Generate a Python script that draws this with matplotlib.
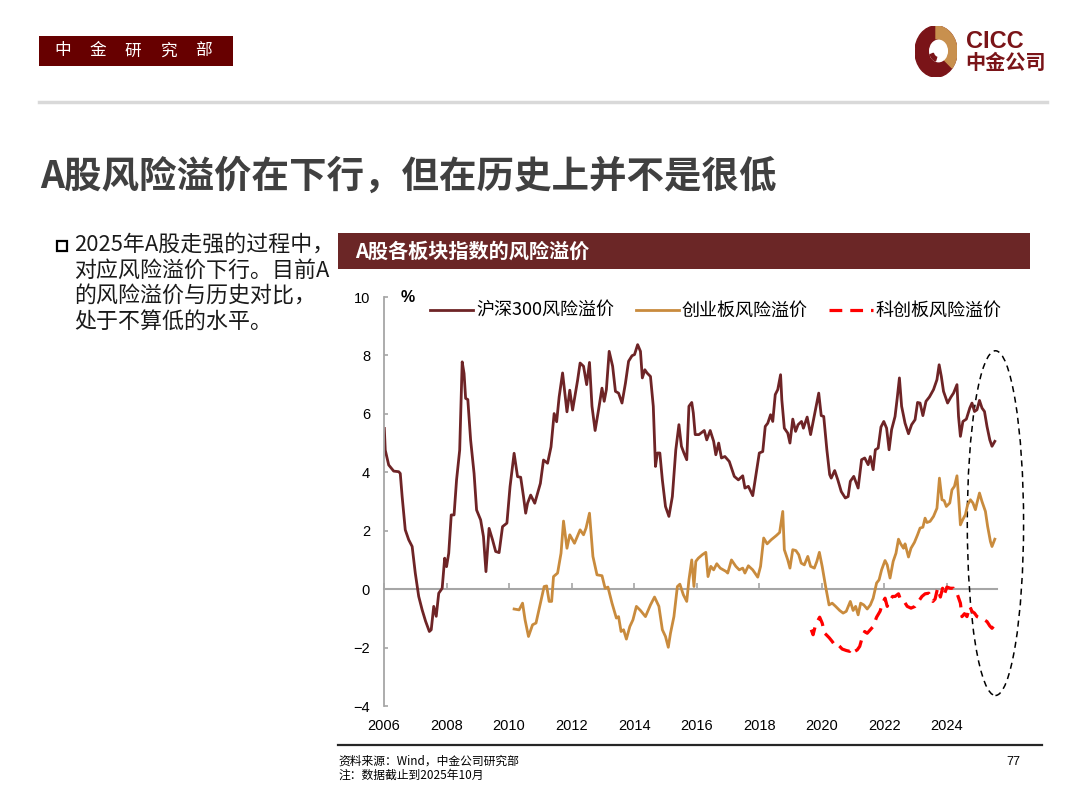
import matplotlib
matplotlib.use("Agg")
import matplotlib.pyplot as plt
from matplotlib.patches import Rectangle, Ellipse, Circle, Wedge
from matplotlib.lines import Line2D

plt.rcParams['font.family'] = ['Noto Sans CJK SC', 'DejaVu Sans']

# --- data (year, %) ---
hs300_x = [2006.01, 2006.04, 2006.15, 2006.31, 2006.47, 2006.52, 2006.58, 2006.68, 2006.79, 2006.90,
           2007.00, 2007.11, 2007.22, 2007.33, 2007.45, 2007.51, 2007.59, 2007.67, 2007.75, 2007.86,
           2007.94, 2008.00, 2008.07, 2008.15, 2008.24, 2008.32, 2008.42, 2008.50, 2008.56, 2008.61,
           2008.68, 2008.77, 2008.88, 2008.96, 2009.09, 2009.18, 2009.26, 2009.36, 2009.47, 2009.57,
           2009.68, 2009.79, 2009.93, 2010.03, 2010.16, 2010.27, 2010.37, 2010.46, 2010.53, 2010.59,
           2010.69, 2010.82, 2010.91, 2011.00, 2011.10, 2011.23, 2011.34, 2011.44, 2011.52, 2011.60,
           2011.71, 2011.85, 2011.94, 2012.03, 2012.19,
           2012.27, 2012.38, 2012.48, 2012.57, 2012.65, 2012.75, 2012.86, 2012.97, 2013.04, 2013.11,
           2013.20, 2013.31, 2013.40, 2013.50, 2013.61, 2013.72, 2013.82, 2013.93, 2014.01, 2014.11,
           2014.20, 2014.26, 2014.34, 2014.41, 2014.52, 2014.61, 2014.68, 2014.74, 2014.82, 2014.90,
           2015.00, 2015.11, 2015.22, 2015.33, 2015.43, 2015.51, 2015.59, 2015.68, 2015.75, 2015.84,
           2015.89, 2015.95, 2016.07, 2016.24, 2016.32, 2016.43, 2016.54, 2016.61, 2016.70, 2016.79,
           2016.90, 2017.04, 2017.20, 2017.33, 2017.47, 2017.54, 2017.65, 2017.79, 2017.90, 2018.00,
           2018.11, 2018.19, 2018.27, 2018.36, 2018.43, 2018.51, 2018.59, 2018.68,
           2018.72, 2018.80, 2018.91, 2018.98, 2019.07, 2019.16, 2019.24, 2019.35, 2019.41, 2019.53,
           2019.64, 2019.76, 2019.90, 2019.98, 2020.06, 2020.16, 2020.25, 2020.30, 2020.41, 2020.51,
           2020.62, 2020.75, 2020.84, 2020.91, 2021.02, 2021.10, 2021.16, 2021.27, 2021.37, 2021.48,
           2021.55, 2021.64, 2021.71, 2021.80, 2021.89, 2021.98, 2022.07, 2022.15, 2022.23, 2022.34,
           2022.41, 2022.48, 2022.55, 2022.66, 2022.77, 2022.87, 2022.98, 2023.06, 2023.14, 2023.23,
           2023.33, 2023.44, 2023.57, 2023.68, 2023.75, 2023.82, 2023.89, 2024.02, 2024.13, 2024.21,
           2024.32, 2024.37, 2024.43, 2024.51, 2024.62, 2024.73, 2024.80, 2024.88, 2024.96, 2025.04,
           2025.12, 2025.20, 2025.28, 2025.37, 2025.44, 2025.53]
hs300_y = [5.50, 4.76, 4.25, 4.04, 4.02, 3.96, 3.17, 2.03, 1.69, 1.46,
           0.55, -0.25, -0.71, -1.10, -1.45, -1.39, -0.59, -0.93, -0.14, 0.03,
           1.06, 0.77, 1.23, 2.54, 2.54, 3.74, 4.76, 7.78, 7.38, 6.53,
           6.49, 5.10, 3.96, 2.71, 2.37, 1.80, 0.60, 2.08, 1.69, 1.29,
           1.25, 2.14, 2.26, 3.51, 4.65, 3.85, 3.83, 3.17, 2.60, 2.94,
           3.22, 2.94, 3.28, 3.62, 4.42, 4.31, 4.87, 6.01, 5.73, 6.58,
           7.40, 6.07, 6.81, 6.13, 7.15,
           7.74, 7.63, 7.00, 7.76, 6.26, 5.43, 6.14, 6.88, 6.43, 6.83,
           8.14, 7.63, 6.77, 6.71, 6.37, 7.05, 7.80, 7.99, 8.03, 8.37,
           8.14, 7.23, 7.51, 7.40, 7.28, 6.26, 4.20, 4.66, 4.66, 3.74,
           2.83, 2.49, 3.17, 4.77, 5.63, 4.89, 4.66, 4.43, 6.26, 6.39,
           6.03, 5.29, 5.29, 5.43, 5.11, 5.43, 5.06, 4.60, 5.00, 4.49,
           4.54, 4.37, 3.86, 3.74, 3.88, 3.46, 3.52, 3.20, 3.97, 4.66,
           4.71, 5.57, 5.68, 5.97, 5.74, 6.66, 6.83, 7.34,
           6.48, 5.51, 5.34, 5.00, 5.82, 5.40, 5.63, 5.74, 5.51, 5.89,
           5.29, 5.94, 6.71, 5.94, 5.91, 4.77, 3.92, 3.80, 4.06, 3.74,
           3.34, 3.12, 3.17, 3.69, 3.86, 3.63, 3.46, 4.43, 4.49, 4.26,
           4.54, 4.09, 4.77, 4.83, 5.55, 5.74, 5.51, 4.77, 5.46, 5.91,
           6.54, 7.23, 6.26, 5.68, 5.32, 5.63, 5.80, 6.39, 6.37, 5.94,
           6.43, 6.58, 6.83, 7.17, 7.68, 7.28, 6.77, 6.37, 6.58, 6.71,
           7.00, 5.91, 5.23, 5.74, 5.82, 6.20, 6.37, 6.08, 6.14, 6.46,
           6.20, 6.08, 5.57, 5.11, 4.89, 5.06]

cyb_x = [2010.16, 2010.32, 2010.43, 2010.51, 2010.62, 2010.75, 2010.86, 2011.00, 2011.12, 2011.20,
         2011.28, 2011.36, 2011.42, 2011.55, 2011.66, 2011.74, 2011.85, 2011.94, 2012.09,
         2012.27, 2012.38, 2012.46, 2012.57, 2012.68, 2012.81, 2012.97, 2013.07, 2013.16, 2013.29,
         2013.43, 2013.50, 2013.58, 2013.66, 2013.75, 2013.86, 2013.96, 2014.07, 2014.20, 2014.36,
         2014.52, 2014.65, 2014.79, 2014.90, 2015.00, 2015.09, 2015.16, 2015.27, 2015.38, 2015.46,
         2015.57, 2015.68, 2015.75, 2015.84, 2015.91, 2015.97, 2016.05, 2016.18, 2016.29, 2016.36,
         2016.45, 2016.54, 2016.64, 2016.75, 2016.93, 2016.99, 2017.11, 2017.25, 2017.36, 2017.47,
         2017.54, 2017.65, 2017.79, 2017.86, 2017.95, 2018.04, 2018.14, 2018.25, 2018.38, 2018.54,
         2018.65, 2018.75,
         2018.80, 2018.91, 2018.98, 2019.07, 2019.17, 2019.26, 2019.34, 2019.44, 2019.55, 2019.64,
         2019.76, 2019.84, 2019.92, 2020.01, 2020.12, 2020.23, 2020.33, 2020.44, 2020.57, 2020.68,
         2020.78, 2020.91, 2021.00, 2021.08, 2021.16, 2021.24, 2021.34, 2021.45, 2021.55, 2021.64,
         2021.75, 2021.83, 2021.91, 2022.02, 2022.09, 2022.18, 2022.28, 2022.37, 2022.45, 2022.52,
         2022.61, 2022.66, 2022.77, 2022.85, 2022.96, 2023.06, 2023.14, 2023.23, 2023.30, 2023.36,
         2023.46, 2023.57, 2023.68, 2023.76, 2023.84, 2023.91, 2023.98, 2024.09, 2024.16, 2024.24,
         2024.32, 2024.37, 2024.43, 2024.50, 2024.59, 2024.66, 2024.75, 2024.83, 2024.91, 2024.96,
         2025.04, 2025.12, 2025.23, 2025.30, 2025.39, 2025.44, 2025.53]
cyb_y = [-0.68, -0.71, -0.48, -1.05, -1.62, -1.22, -1.16, -0.48, 0.09, 0.11,
         -0.42, -0.42, 0.43, 0.55, 1.23, 2.33, 1.40, 1.86, 1.57,
         2.03, 1.86, 2.09, 2.60, 1.12, 0.49, 0.46, 0.03, 0.07, -0.48,
         -0.99, -0.94, -1.45, -1.39, -1.71, -1.28, -1.05, -0.59, -0.73, -0.94,
         -0.54, -0.27, -0.59, -1.39, -1.62, -1.99, -1.51, -0.94, 0.09, 0.17,
         -0.19, -0.42, 0.32, 1.00, 0.09, 0.95, 1.06, 1.18, 1.26, 0.43,
         0.78, 0.66, 0.87, 0.72, 0.61, 0.55, 1.00, 0.78, 0.66, 0.72,
         0.55, 0.80, 0.66, 0.55, 0.41, 0.78, 1.75, 1.55, 1.69, 1.83,
         1.94, 2.66,
         1.35, 1.00, 0.72, 1.35, 1.32, 1.18, 0.89, 0.83, 1.12, 0.78,
         0.72, 0.95, 1.26, 0.78, 0.09, -0.54, -0.48, -0.59, -0.73, -0.82,
         -0.76, -0.42, -0.73, -0.59, -0.88, -0.48, -0.54, -0.68, -0.54, -0.31,
         0.21, 0.32, 0.66, 0.98, 0.83, 0.38, 0.95, 1.23, 1.71, 1.55,
         1.40, 1.55, 1.10, 1.40, 1.60, 1.86, 2.09, 2.12, 2.43, 2.28,
         2.32, 2.49, 2.77, 3.80, 3.06, 3.03, 2.83, 2.95, 3.40, 3.52,
         3.88, 3.17, 2.20, 2.37, 2.55, 2.89, 3.06, 2.95, 2.72, 2.95,
         3.29, 3.00, 2.66, 2.15, 1.63, 1.46, 1.71]

kcb_x = [2019.66, 2019.72, 2019.80, 2019.93, 2020.01, 2020.09, 2020.14, 2020.24, 2020.33, 2020.41,
         2020.48, 2020.57, 2020.65, 2020.78, 2020.89, 2020.97, 2021.05, 2021.13, 2021.21, 2021.30,
         2021.37, 2021.45, 2021.55, 2021.64, 2021.75, 2021.86, 2021.94, 2022.02, 2022.09, 2022.18,
         2022.26, 2022.34, 2022.45, 2022.52, 2022.63, 2022.73, 2022.85, 2022.98, 2023.09, 2023.20,
         2023.30, 2023.42, 2023.55, 2023.62, 2023.70, 2023.79, 2023.86, 2023.91, 2024.00, 2024.11,
         2024.21, 2024.32, 2024.43, 2024.48, 2024.56, 2024.64, 2024.73, 2024.80, 2024.88, 2024.96,
         2025.07, 2025.19, 2025.28, 2025.37, 2025.44, 2025.53]
kcb_y = [-1.39, -1.56, -1.22, -0.96, -1.16, -1.51, -1.56, -1.67, -1.79, -1.91,
         -1.87, -1.96, -2.05, -2.10, -2.13, -2.02, -2.13, -2.08, -1.96, -1.62,
         -1.45, -1.51, -1.39, -1.28, -0.96, -0.76, -0.48, -0.31, -0.59, -0.39,
         -0.25, -0.25, -0.16, -0.37, -0.42, -0.59, -0.65, -0.59, -0.42, -0.25,
         -0.16, -0.14, -0.42, -0.34, 0.03, -0.27, 0.03, -0.19, 0.07, 0.03,
         0.03, -0.14, -0.48, -0.94, -0.84, -0.94, -0.59, -0.76, -0.82, -0.94,
         -0.99, -1.05, -1.11, -1.26, -1.34, -1.22]

series_labels = ['沪深300风险溢价', '创业板风险溢价', '科创板风险溢价']
year_ticks = list(range(2006, 2025, 2))
value_ticks = list(range(-4, 11, 2))

C_HS300 = '#6E2426'
C_CYB = '#C98B3D'
C_KCB = '#FF0000'
C_LOGO = '#7A1418'
C_GRID = '#A6A6A6'

W, H = 1080, 809
fig = plt.figure(figsize=(W / 100, H / 100), dpi=100)


def fx(px):
    return px / W


def fy(py):
    return 1 - py / H


# --- header ---
fig.patches.append(Rectangle((fx(39), fy(66)), fx(194), 30 / H, transform=fig.transFigure,
                             facecolor='#670000', edgecolor='none'))
for i, ch in enumerate('中金研究部'):
    fig.text(fx(63 + i * 35), fy(51), ch, color='white', fontsize=12,
             ha='center', va='center')

# logo
lax = fig.add_axes([fx(915), fy(77), 42 / W, 51 / H])
lax.set_xlim(-1, 1)
lax.set_ylim(-1, 1)
lax.axis('off')
lax.add_patch(Circle((0, 0), 1.0, color=C_LOGO))
lax.add_patch(Wedge((0, 0), 1.0, -40, 90, width=0.5, color='#C8904E'))
lax.add_patch(Circle((0.12, 0.02), 0.42, color='white'))
lax.add_patch(Wedge((0.12, 0.02), 0.42, 200, 250, width=0.16, color=C_LOGO))
fig.text(fx(966), fy(42), 'CICC', color=C_LOGO, fontsize=17, fontweight='bold',
         ha='left', va='center', family=['Liberation Sans', 'DejaVu Sans'])
fig.text(fx(965), fy(62), '中金公司', color=C_LOGO, fontsize=14.5, fontweight='bold',
         ha='left', va='center')

fig.add_artist(Line2D([fx(39), fx(1047)], [fy(102), fy(102)], transform=fig.transFigure,
                      color='#D9D9D9', lw=2.5))

# --- title ---
fig.text(fx(40), fy(176), 'A股风险溢价在下行，但在历史上并不是很低', fontsize=27,
         fontweight='bold', color='#404040', ha='left', va='center')

# --- bullet text ---
fig.patches.append(Rectangle((fx(57), fy(251)), 10 / W, 10 / H, transform=fig.transFigure,
                             facecolor='white', edgecolor='black', lw=1.6))
bullet_lines = ['2025年A股走强的过程中，', '对应风险溢价下行。目前A',
                '的风险溢价与历史对比，', '处于不算低的水平。']
for i, line in enumerate(bullet_lines):
    fig.text(fx(74), fy(245 + i * 25.7), line, fontsize=15.8, color='#1A1A1A',
             ha='left', va='center')

# --- chart title bar ---
fig.patches.append(Rectangle((fx(338), fy(269)), fx(692), 36 / H, transform=fig.transFigure,
                             facecolor='#6B2626', edgecolor='none'))
fig.text(fx(355), fy(251), 'A股各板块指数的风险溢价', fontsize=14.5, fontweight='bold',
         color='white', ha='left', va='center')

# --- chart ---
ax = fig.add_axes([fx(384), fy(706), fx(997 - 384), (706 - 297) / H])
ax.plot(hs300_x, hs300_y, color=C_HS300, lw=2.0, label=series_labels[0], solid_joinstyle='round')
ax.plot(cyb_x, cyb_y, color=C_CYB, lw=2.0, label=series_labels[1], solid_joinstyle='round')
ax.plot(kcb_x, kcb_y, color=C_KCB, lw=2.3, ls=(0, (4, 2.5)), label=series_labels[2])

ax.set_xlim(2006, 2025.6)
ax.set_ylim(-4, 10)
ax.set_yticks(value_ticks)
ax.set_xticks(year_ticks)
ax.set_xticklabels([str(y) for y in year_ticks])
tick_font = ['Liberation Sans Narrow', 'Liberation Sans', 'DejaVu Sans']
for lab in ax.get_xticklabels() + ax.get_yticklabels():
    lab.set_family(tick_font)
    lab.set_fontsize(10.5)
ax.tick_params(axis='x', length=0, pad=9)
ax.tick_params(axis='y', direction='in', length=3, color=C_GRID, width=1.2, pad=10)
for side in ['top', 'right', 'bottom']:
    ax.spines[side].set_visible(False)
ax.spines['left'].set_color(C_GRID)
ax.spines['left'].set_linewidth(1.3)

# horizontal axis crossing at zero, small ticks pointing up
zero_ax = ax.secondary_xaxis(4 / 14)
zero_ax.set_xticks(year_ticks)
zero_ax.set_xticklabels([])
zero_ax.tick_params(direction='in', length=4, color=C_GRID, width=1.2)
zero_ax.spines['bottom'].set_color(C_GRID)
zero_ax.spines['bottom'].set_linewidth(1.5)
zero_ax.spines['top'].set_visible(False)

ax.text(0.027, 1.0, '%', transform=ax.transAxes, fontsize=11.5, fontweight='bold',
        ha='left', va='center', family=['Liberation Sans', 'DejaVu Sans'])

# highlight ellipse around latest readings
ax.add_patch(Ellipse((2025.55, 2.26), 1.8, 11.8, fill=False, ls=(0, (4, 3)),
                     lw=1.1, edgecolor='black', clip_on=False))

ax.legend(loc='center left', bbox_to_anchor=(fx(430), fy(311)), bbox_transform=fig.transFigure,
          ncol=3, frameon=False, fontsize=13, handlelength=2.4, handletextpad=0.15,
          columnspacing=1.2, borderaxespad=0, borderpad=0)

# --- footer ---
fig.add_artist(Line2D([fx(338), fx(1042)], [fy(745), fy(745)], transform=fig.transFigure,
                      color='#262626', lw=1.6))
fig.text(fx(338), fy(761), '资料来源：Wind，中金公司研究部', fontsize=8.5, ha='left', va='center')
fig.text(fx(338), fy(775), '注：数据截止到2025年10月', fontsize=8.5, ha='left', va='center')
fig.text(fx(1020), fy(762), '77', fontsize=9, ha='right', va='center',
         family=['Liberation Sans', 'DejaVu Sans'])

fig.savefig('out.png', dpi=100)
